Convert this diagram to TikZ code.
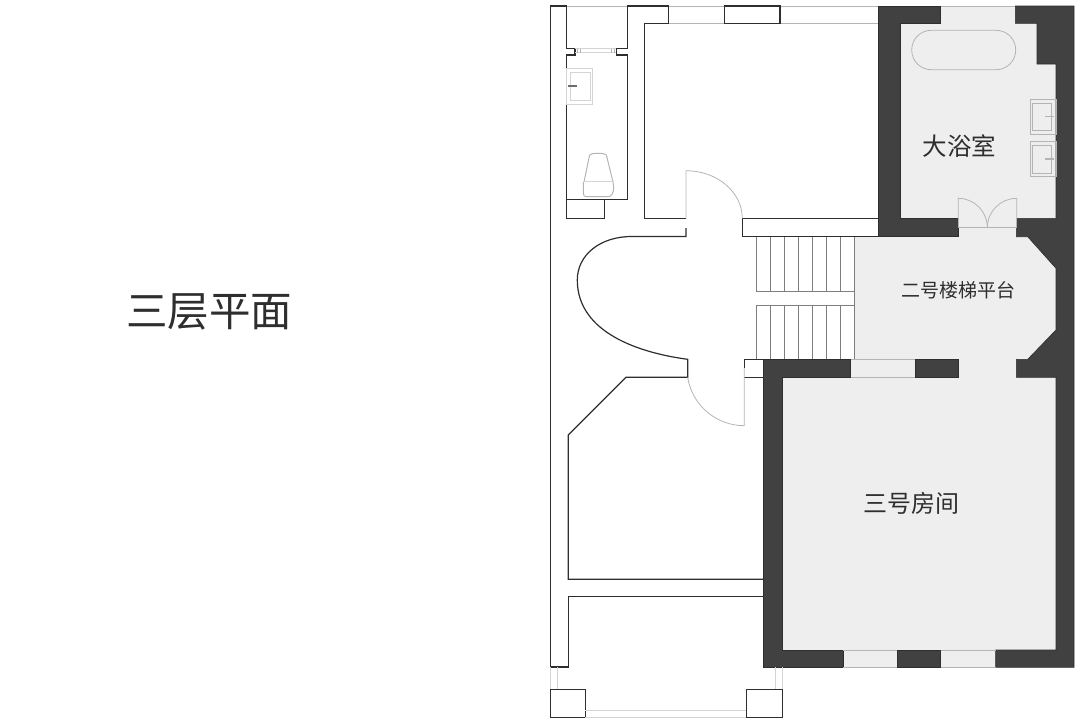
\documentclass[tikz,border=0pt]{standalone}
\usepackage{fontspec}
\newfontfamily\cjk{Noto Sans CJK SC}
\definecolor{walldark}{HTML}{414141}
\definecolor{roomfill}{HTML}{EEEEEE}
\definecolor{ink}{HTML}{2E2E2E}
\definecolor{thin}{HTML}{B4B4B4}
\definecolor{pale}{HTML}{D4D4D4}
\tikzset{
  wall/.style={draw=ink,line width=1.2pt,line join=miter},
  darkwall/.style={fill=walldark,draw=ink,line width=.6pt},
  room/.style={fill=roomfill,draw=none},
  fixture/.style={draw=thin,line width=.8pt},
  faint/.style={draw=pale,line width=1.1pt},
  stairline/.style={draw=thin!70!black,line width=.9pt},
  faucet/.style={draw=thin,line width=1.3pt},
  label/.style={text=ink,inner sep=0pt,font=\cjk}
}
\begin{document}
\begin{tikzpicture}[x=1pt,y=-1pt]
\useasboundingbox (0,0) rectangle (1080,724);
% room fills
\fill[room] (900,6) rectangle (1056,237);
\fill[room] (854,236.7) rectangle (1056,377.3);
\fill[room] (782.7,359.3) rectangle (1056,667.3);
% thin lines at the top
\draw[fixture] (566.7,6) -- (627.3,6) (668.3,6) -- (724.3,6) (780,6) -- (878.3,6) (940,6) -- (1015.3,6);
\draw[fixture] (668.3,23.4) -- (724.3,23.4) (780,23.4) -- (878.3,23.4);
% stairs
\foreach \sx in {756.3,770.3,784.3,798.3,812.3,826.3,840,854}{
  \draw[stairline] (\sx,236.7) -- (\sx,291.3) (\sx,305) -- (\sx,359.3);
}
\draw[stairline] (854,291.3) -- (854,305);
\draw[stairline] (756.3,291.3) -- (854,291.3) (756.3,305) -- (854,305);
% dark walls
\path[darkwall] (878.3,6) -- (940,6) -- (940,23.3) -- (900,23.3) -- (900,218.3) -- (958.3,218.3) -- (958.3,236.7) -- (878.3,236.7) -- cycle;
\path[darkwall] (1015.3,6) -- (1074,6) -- (1074,667.3) -- (995.7,667.3) -- (995.7,650) -- (1056,650) -- (1056,377.3) -- (1016.3,377.3) -- (1016.3,359.3) -- (1027.7,359.3) -- (1056,330) -- (1056,268.3) -- (1027.7,236.7) -- (1016.3,236.7) -- (1016.3,218.3) -- (1056,218.3) -- (1056,64) -- (1037,64) -- (1037,23.3) -- (1015.3,23.3) -- cycle;
\path[darkwall] (763.7,359.3) -- (850.7,359.3) -- (850.7,377.3) -- (782.7,377.3) -- (782.7,650) -- (843.3,650) -- (843.3,667.3) -- (763.7,667.3) -- cycle;
\path[darkwall] (915,359.3) rectangle (958.7,377.3);
\path[darkwall] (897.3,650) rectangle (940.7,667.3);
% window outlines in the dark walls
\draw[fixture] (850.7,359.3) -- (915,359.3) (850.7,377.3) -- (915,377.3);
\draw[fixture] (843.3,650) -- (897.3,650) (843.3,667.3) -- (897.3,667.3);
\draw[fixture] (940.7,650) -- (995.7,650) (940.7,667.3) -- (995.7,667.3);
% outer plan walls
\draw[wall] (566.7,199.4) -- (566.7,55) -- (575,55) -- (575,48.3) -- (566.7,48.3) -- (566.7,6) -- (550.7,6) -- (550.7,667) -- (568.3,667) -- (568.3,596.7) -- (763.7,596.7);
\draw[wall] (763.7,579.3) -- (568.3,579.3) -- (568.3,435) -- (626,377.3) -- (687.7,377.3) -- (687.7,359.3) .. controls (640,353) and (577.3,333) .. (577.3,280) .. controls (577.3,255) and (600,236.5) .. (631.7,236.5) -- (686,236.5) -- (686,228);
\draw[wall] (686,218.3) -- (644.3,218.3) -- (644.3,23.4) -- (668.3,23.4) -- (668.3,6) -- (627.3,6) -- (627.3,48.3) -- (616.3,48.3) -- (616.3,55) -- (627.3,55) -- (627.3,199.4) -- (566.7,199.4) -- (566.7,218.3) -- (604.3,218.3) -- (604.3,199.4);
\draw[wall] (724.3,6) rectangle (780,23.4);
\draw[wall] (742.7,236.5) -- (742.7,218.5) -- (878.3,218.5) (742.7,236.6) -- (878.3,236.6);
\draw[wall] (763.7,359.3) -- (744.3,359.3) -- (744.3,368) (744.3,377.3) -- (763.7,377.3);
% balcony
\draw[wall] (550.7,689.3) rectangle (585.3,717.3);
\draw[wall] (746.3,689.3) rectangle (782.3,717.3);
\draw[faint] (550.7,667) -- (550.7,689.3) (557.3,667) -- (557.3,689.3);
\draw[faint] (775.7,667.3) -- (775.7,689.3) (782.3,667.3) -- (782.3,689.3);
\draw[faint] (585.3,710.7) -- (746.3,710.7) (585.3,717.3) -- (746.3,717.3);
% hall doors
\draw[fixture] (686,218.3) -- (686,170.7) .. controls (717,170.7) and (742.3,192) .. (742.3,218.3);
\draw[fixture] (687.7,377.3) .. controls (692,405) and (716,425.7) .. (744.3,425.7) -- (744.3,377.3) -- (744.3,368);
% WC window
\draw[faint] (575,48.8) -- (616.3,48.8) (575,52.3) -- (616.3,52.3);
\draw[fixture,line width=.5pt] (577.5,48.5) -- (577.5,52.5) (580,48.5) -- (580,52.5) (611,48.5) -- (611,52.5) (614,48.5) -- (614,52.5);
% WC basin
\draw[faint] (566.7,68.3) rectangle (592.7,104.3);
\draw[faint,line width=.8pt] (570.7,72) rectangle (590.7,100.7);
\draw[faucet,draw=thin!60!black] (568,86) -- (576.5,86);
% toilet
\draw[fixture,line width=1pt] (584,182) -- (589.5,155.5) .. controls (590,152.5) and (606,152.5) .. (606.5,155.5) -- (613,182);
\draw[fixture,line width=1pt,rounded corners=3pt] (583.3,182) -- (583.3,196.7) -- (611,196.7) -- (614,190) -- (613,182);
\draw[faint,line width=.9pt] (584,181) -- (613,181);
% bath tub
\draw[fixture] (931.4,30.3) -- (996,30.3) .. controls (1007,30.3) and (1015.7,39) .. (1015.7,50) .. controls (1015.7,61) and (1007,69.7) .. (996,69.7) -- (931.4,69.7) .. controls (920.4,69.7) and (911.7,61) .. (911.7,50) .. controls (911.7,39) and (920.4,30.3) .. (931.4,30.3);
% bath basins
\draw[fixture] (1030.3,99.3) rectangle (1056,134.7);
\draw[fixture] (1032.7,103.3) rectangle (1051.3,130.7);
\draw[faucet] (1045,116.7) -- (1054,116.7);
\draw[fixture] (1030.3,141.3) rectangle (1056,176.3);
\draw[fixture] (1032.7,145.3) rectangle (1051.3,173);
\draw[faucet] (1045,159) -- (1054,159);
% bath double door
\draw[fixture] (958.3,218.3) -- (958.3,198.3) .. controls (974,198.3) and (987.3,211) .. (987.3,227.7);
\draw[fixture] (1016.7,218.3) -- (1016.7,198.3) .. controls (1001,198.3) and (987.3,211) .. (987.3,227.7);
\draw[fixture] (958.3,218.3) -- (958.3,227.7) -- (1016.7,227.7) -- (1016.7,218.3);
% labels
\node[label,font=\cjk\fontsize{41.5}{48}\selectfont] (title) at (209,312) {三层平面};
\node[label,font=\cjk\fontsize{24.5}{29}\selectfont] (bath) at (959.5,146) {大浴室};
\node[label,font=\cjk\fontsize{19}{23}\selectfont] (landing) at (958,290) {二号楼梯平台};
\node[label,font=\cjk\fontsize{24}{29}\selectfont] (room3) at (911,503) {三号房间};
\end{tikzpicture}
\end{document}
